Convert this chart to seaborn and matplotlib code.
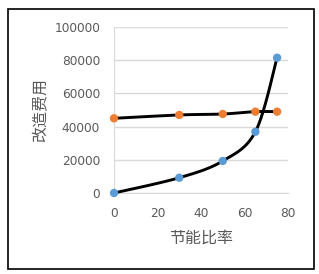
import numpy as np
import pandas as pd
import seaborn as sns
import matplotlib
matplotlib.use("Agg")
from matplotlib import pyplot as plt
from matplotlib.patches import Rectangle

# data
ratio = [0, 30, 50, 65, 75]
cost_a = [0, 9200, 19300, 36900, 81500]
cost_b = [45000, 47000, 47600, 49000, 49000]
x_ticks = [0, 20, 40, 60, 80]
y_ticks = [0, 20000, 40000, 60000, 80000, 100000]


def smooth(xs, ys, n=30):
    # excel style smoothed line (catmull-rom bezier between the points)
    xs = np.asarray(xs, float)
    ys = np.asarray(ys, float)
    px = np.concatenate([[xs[0]], xs, [xs[-1]]])
    py = np.concatenate([[ys[0]], ys, [ys[-1]]])
    outx, outy = [], []
    for i in range(1, len(px) - 2):
        p0 = np.array([px[i], py[i]])
        p3 = np.array([px[i + 1], py[i + 1]])
        c1 = p0 + (np.array([px[i + 1], py[i + 1]]) - np.array([px[i - 1], py[i - 1]])) / 6
        c2 = p3 - (np.array([px[i + 2], py[i + 2]]) - np.array([px[i], py[i]])) / 6
        t = np.linspace(0, 1, n)[:, None]
        pts = (1 - t) ** 3 * p0 + 3 * (1 - t) ** 2 * t * c1 + 3 * (1 - t) * t ** 2 * c2 + t ** 3 * p3
        outx.extend(pts[:, 0])
        outy.extend(pts[:, 1])
    return pd.DataFrame({"x": outx, "y": outy})


sns.set_style("white")
plt.rcParams['font.family'] = ['DejaVu Sans', 'Noto Sans CJK SC']

fig = plt.figure(figsize=(3.19, 2.74), dpi=100)
fig.patches.append(Rectangle((8 / 319, 1 - 269 / 274), 306 / 319, 260 / 274,
                             transform=fig.transFigure, fill=False, edgecolor='black', linewidth=1.2))
ax = fig.add_axes([114 / 319, 1 - 193 / 274, 174 / 319, 166 / 274])

for ys in (cost_a, cost_b):
    sm = smooth(ratio, ys)
    sns.lineplot(data=sm, x="x", y="y", sort=False, color='black', linewidth=2.1, ax=ax,
                 estimator=None, zorder=3, clip_on=False)

sns.scatterplot(x=ratio, y=cost_a, color='#5B9BD5', s=36, edgecolor='none', ax=ax, zorder=4, clip_on=False)
sns.scatterplot(x=ratio, y=cost_b, color='#ED7D31', s=36, edgecolor='none', ax=ax, zorder=4, clip_on=False)

ax.set_xlim(0, 80)
ax.set_ylim(0, 100000)
ax.set_xticks(x_ticks)
ax.set_yticks(y_ticks)
ax.grid(axis='y', color='#d9d9d9', linewidth=1)
ax.set_axisbelow(True)
for s in ['top', 'right']:
    ax.spines[s].set_visible(False)
ax.spines['left'].set_color('#d9d9d9')
ax.spines['bottom'].set_color('#d9d9d9')
ax.tick_params(length=0, labelsize=8.7, labelcolor='#595959', pad=10)

ax.set_xlabel('节能比率', fontsize=11.5, color='#595959', family=['Noto Sans CJK SC'], labelpad=7)
ax.set_ylabel('改造费用', fontsize=11.5, color='#595959', family=['Noto Sans CJK SC'], labelpad=4)

fig.savefig('out.png', dpi=100)
